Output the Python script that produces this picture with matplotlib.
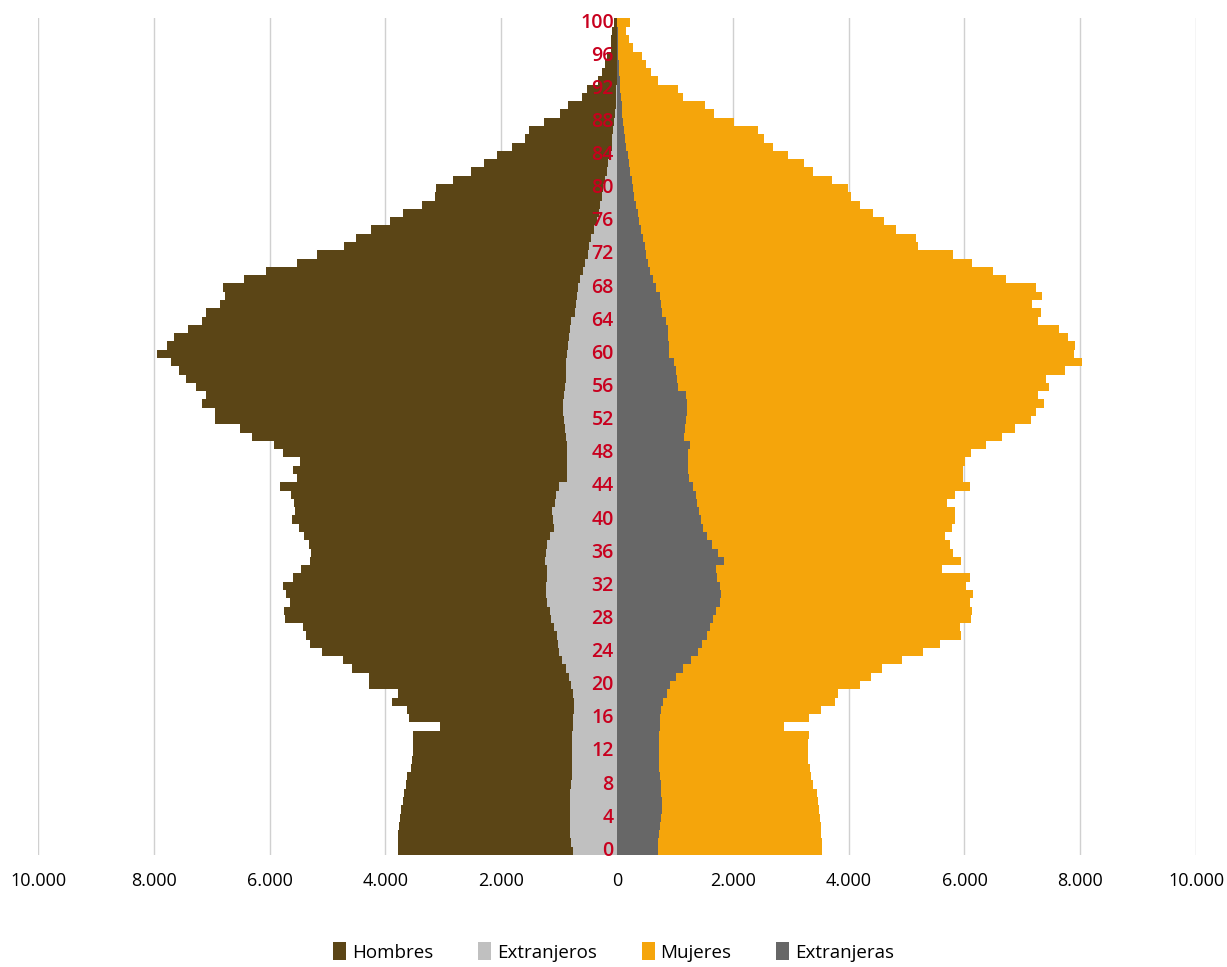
import matplotlib
matplotlib.use("Agg")
import matplotlib.pyplot as plt
from matplotlib.ticker import FuncFormatter
import numpy as np

plt.rcParams['font.family'] = ['Open Sans', 'DejaVu Sans']

# edades 0..100
edades = list(range(0, 101))

hombres = [3791, 3785, 3775, 3767, 3750, 3727, 3704, 3681, 3652, 3623,
           3566, 3537, 3518, 3518, 3518, 3060, 3596, 3623, 3895, 3791,
           4280, 4280, 4580, 4741, 5092, 5305, 5368, 5426, 5742, 5754,
           5644, 5713, 5771, 5599, 5466, 5305, 5281, 5323, 5409, 5495,
           5610, 5570, 5581, 5627, 5823, 5523, 5592, 5483, 5771, 5927,
           6312, 6520, 6951, 6951, 7176, 7107, 7280, 7452, 7567, 7711,
           7953, 7780, 7654, 7406, 7170, 7107, 6865, 6773, 6813, 6439,
           6059, 5535, 5178, 4723, 4516, 4257, 3929, 3699, 3364, 3146,
           3123, 2836, 2530, 2305, 2081, 1810, 1592, 1523, 1258, 981,
           843, 613, 515, 331, 268, 200, 170, 112, 110, 80,
           60]

extranjeros = [763, 792, 815, 815, 815, 815, 815, 815, 803, 786,
               786, 786, 786, 786, 786, 769, 757, 745, 745, 757,
               803, 832, 889, 947, 1005, 1016, 1045, 1091, 1137, 1160,
               1218, 1235, 1229, 1218, 1206, 1247, 1235, 1206, 1160, 1091,
               1108, 1119, 1079, 1062, 1005, 872, 861, 861, 861, 872,
               889, 907, 921, 933, 933, 910, 898, 881, 881, 881,
               864, 841, 823, 806, 795, 720, 708, 697, 679, 639,
               581, 553, 507, 478, 449, 391, 351, 317, 294, 265,
               236, 207, 173, 150, 104, 95, 86, 70, 58, 40,
               25, 15, 10, 6, 5, 4, 3, 2, 2, 1,
               1]

mujeres = [3532, 3532, 3526, 3514, 3503, 3486, 3468, 3445, 3388, 3353,
           3330, 3302, 3290, 3290, 3307, 2875, 3307, 3526, 3756, 3808,
           4188, 4378, 4568, 4925, 5288, 5575, 5944, 5927, 6117, 6134,
           6100, 6152, 6031, 6100, 5616, 5944, 5806, 5754, 5668, 5789,
           5834, 5834, 5703, 5841, 6100, 5967, 5967, 6013, 6117, 6364,
           6652, 6877, 7153, 7240, 7378, 7274, 7464, 7413, 7734, 8034,
           7890, 7907, 7792, 7637, 7274, 7314, 7170, 7343, 7239, 6721,
           6497, 6134, 5806, 5201, 5155, 4810, 4602, 4424, 4188, 4044,
           3981, 3704, 3388, 3221, 2956, 2686, 2542, 2438, 2024, 1667,
           1511, 1143, 1056, 699, 590, 504, 423, 279, 199, 147,
           216]

extranjeras = [699, 711, 728, 740, 751, 769, 769, 763, 751, 740,
               728, 722, 717, 722, 728, 734, 734, 751, 786, 855,
               907, 1010, 1131, 1269, 1390, 1471, 1546, 1597, 1649, 1701,
               1782, 1799, 1776, 1730, 1701, 1851, 1747, 1643, 1557, 1477,
               1454, 1419, 1373, 1356, 1304, 1241, 1218, 1218, 1229, 1252,
               1154, 1177, 1189, 1200, 1200, 1183, 1048, 1036, 1019, 979,
               904, 904, 887, 875, 846, 777, 760, 743, 674, 616,
               576, 541, 507, 484, 455, 414, 380, 357, 328, 299,
               271, 253, 230, 213, 184, 160, 138, 120, 104, 90,
               81, 70, 58, 45, 35, 28, 23, 15, 10, 8,
               5]

etiquetas_edad = list(range(0, 101, 4))

fig = plt.figure(figsize=(12.27, 9.67), dpi=100)
ax = fig.add_axes([0.031, 0.1158, 0.9438, 0.8652])

y = np.array(edades)
ax.barh(y, -np.array(hombres), height=1.0, color='#5b4516', linewidth=0, label='Hombres', zorder=2)
ax.barh(y, -np.array(extranjeros), height=1.0, color='#c0c0c0', linewidth=0, label='Extranjeros', zorder=3)
ax.barh(y, mujeres, height=1.0, color='#f5a50b', linewidth=0, label='Mujeres', zorder=2)
ax.barh(y, extranjeras, height=1.0, color='#676767', linewidth=0, label='Extranjeras', zorder=3)

for e in etiquetas_edad:
    ax.text(-55, e, str(e), ha='right', va='center', fontsize=14,
            color='#c8001e', fontweight='semibold', zorder=5)

ax.set_xlim(-10000, 10000)
ax.set_ylim(-0.5, 100.5)
ax.set_xticks(range(-10000, 10001, 2000))
ax.xaxis.set_major_formatter(FuncFormatter(lambda v, p: f"{abs(int(v)):,}".replace(",", ".")))
ax.tick_params(axis='x', length=0, pad=12, labelsize=13, colors='#000000')
ax.set_yticks([])
ax.grid(axis='x', color='#d0d0d0', linewidth=1, zorder=0)
ax.set_axisbelow(True)
for s in ax.spines.values():
    s.set_visible(False)

fig.legend(loc='lower center', bbox_to_anchor=(0.5, -0.012), ncol=4, frameon=False,
           fontsize=13.5, handlelength=0.7, handleheight=1.1, handletextpad=0.3,
           columnspacing=2.4)

fig.savefig('out.png', dpi=100)
